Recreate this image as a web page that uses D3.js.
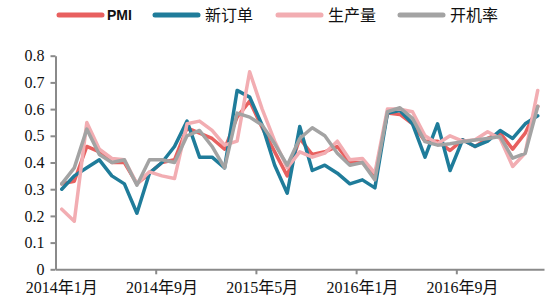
<!DOCTYPE html>
<html>
<head>
<meta charset="utf-8">
<script src="https://cdn.jsdelivr.net/npm/d3@7"></script>
<style>
  body { margin: 0; background: #fff; }
  svg { display: block; }
</style>
</head>
<body>
<div id="chart"></div>
<script>
var w = 550;
var h = 300;

// monthly categories 2014-01 .. 2017-03
var months = [];
for (var y = 2014; y <= 2017; y++) {
    for (var m = 1; m <= 12; m++) {
        if (y == 2017 && m > 3) break;
        months.push(y + "年" + m + "月");
    }
}

var seriesNames = ["PMI", "新订单", "生产量", "开机率"];
var seriesColours = ["#e8605f", "#1f7c9a", "#f2adb2", "#a3a3a3"];

var pmi = [0.32, 0.33, 0.46, 0.44, 0.40, 0.40, 0.32, 0.36, 0.40, 0.41,
           0.53, 0.51, 0.49, 0.45, 0.57, 0.63, 0.53, 0.44, 0.35, 0.49,
           0.43, 0.44, 0.46, 0.40, 0.40, 0.35, 0.585, 0.58, 0.545, 0.48,
           0.48, 0.445, 0.485, 0.46, 0.49, 0.51, 0.45, 0.51, 0.61];
var newOrders = [0.30, 0.35, 0.38, 0.41, 0.35, 0.32, 0.21, 0.36, 0.40, 0.46,
                 0.555, 0.42, 0.42, 0.38, 0.67, 0.645, 0.54, 0.39, 0.285, 0.535,
                 0.37, 0.39, 0.36, 0.32, 0.335, 0.305, 0.585, 0.595, 0.545, 0.42,
                 0.545, 0.37, 0.485, 0.46, 0.48, 0.52, 0.49, 0.545, 0.575];
var output = [0.225, 0.18, 0.55, 0.45, 0.415, 0.41, 0.32, 0.365, 0.35, 0.34,
              0.545, 0.555, 0.52, 0.465, 0.48, 0.74, 0.60, 0.48, 0.38, 0.44,
              0.42, 0.435, 0.48, 0.41, 0.415, 0.36, 0.60, 0.60, 0.59, 0.50,
              0.47, 0.50, 0.48, 0.485, 0.515, 0.49, 0.385, 0.435, 0.67];
var utilisation = [0.32, 0.38, 0.525, 0.43, 0.40, 0.41, 0.315, 0.41, 0.41, 0.40,
                   0.50, 0.52, 0.46, 0.38, 0.585, 0.57, 0.54, 0.47, 0.39, 0.49,
                   0.53, 0.50, 0.435, 0.39, 0.40, 0.335, 0.59, 0.605, 0.565, 0.478,
                   0.465, 0.47, 0.478, 0.484, 0.49, 0.497, 0.416, 0.434, 0.61];

var yTicks = [0, 0.1, 0.2, 0.3, 0.4, 0.5, 0.6, 0.7, 0.8];
var xLabelEvery = 8;

var allSeries = [pmi, newOrders, output, utilisation];

var svg = d3.select("#chart").append("svg")
    .attr("width", w)
    .attr("height", h);

var plotLeft = 55.5, plotRight = 544, plotTop = 55.7, plotBottom = 269.3;

var x = d3.scaleBand()
    .domain(months)
    .range([plotLeft, plotRight])
    .padding(0);

// index scale for the tick marks between categories
var xi = d3.scaleLinear()
    .domain([0, months.length])
    .range([plotLeft, plotRight]);

var yScale = d3.scaleLinear()
    .domain([0, 0.8])
    .range([plotBottom, plotTop]);

var serif = "'Liberation Serif', 'Times New Roman', 'Noto Sans CJK SC', serif";

// y axis
var yAxis = svg.append("g")
    .attr("transform", "translate(" + plotLeft + ",0)")
    .call(d3.axisLeft(yScale)
        .tickValues(yTicks)
        .tickSize(5)
        .tickPadding(6)
        .tickSizeOuter(0)
        .tickFormat(function(d) { return d == 0 ? "0" : d3.format(".1f")(d); }));
yAxis.selectAll("path, line").attr("stroke", "#8a8a8a").attr("stroke-width", 2);
yAxis.selectAll("text")
    .attr("fill", "#111")
    .style("font-family", serif)
    .style("font-size", "16px");

// x axis: tick marks at category boundaries
var xTicks = svg.append("g")
    .attr("transform", "translate(0," + plotBottom + ")")
    .call(d3.axisBottom(xi)
        .tickValues(d3.range(xLabelEvery, months.length, xLabelEvery))
        .tickSize(5)
        .tickSizeOuter(0)
        .tickFormat(""));
xTicks.selectAll("path, line").attr("stroke", "#8a8a8a").attr("stroke-width", 2);

// x labels centred on categories
var xLabels = svg.append("g")
    .attr("transform", "translate(0," + plotBottom + ")")
    .call(d3.axisBottom(x)
        .tickValues(months.filter(function(d, i) { return i % xLabelEvery == 0; }))
        .tickSize(0)
        .tickPadding(12));
xLabels.select(".domain").remove();
xLabels.selectAll("text")
    .attr("fill", "#111")
    .style("font-family", serif)
    .style("font-size", "16px");

// lines
var line = d3.line()
    .x(function(d, i) { return x(months[i]) + x.bandwidth() / 2; })
    .y(function(d) { return yScale(d); });

svg.selectAll("path.series")
    .data(allSeries)
    .enter()
    .append("path")
    .attr("class", "series")
    .attr("d", line)
    .attr("fill", "none")
    .attr("stroke", function(d, i) { return seriesColours[i]; })
    .attr("stroke-width", 3.5)
    .attr("stroke-linejoin", "round")
    .attr("stroke-linecap", "round");

// legend
var legendX = [57, 153, 276, 398];
var legend = svg.selectAll("g.legend")
    .data(seriesNames)
    .enter()
    .append("g")
    .attr("class", "legend")
    .attr("transform", function(d, i) { return "translate(" + legendX[i] + ",15)"; });

legend.append("line")
    .attr("x1", 2)
    .attr("x2", 45)
    .attr("stroke", function(d, i) { return seriesColours[i]; })
    .attr("stroke-width", 5)
    .attr("stroke-linecap", "round");

legend.append("text")
    .attr("x", function(d, i) { return i == 0 ? 50 : 52; })
    .attr("dy", "0.36em")
    .text(function(d) { return d; })
    .attr("fill", "#111")
    .style("font-family", function(d, i) { return i == 0 ? "'Liberation Sans', Arial, sans-serif" : "'Noto Sans CJK SC', sans-serif"; })
    .style("font-weight", function(d, i) { return i == 0 ? "bold" : "normal"; })
    .style("font-size", function(d, i) { return i == 0 ? "14px" : "16px"; });
</script>
</body>
</html>
